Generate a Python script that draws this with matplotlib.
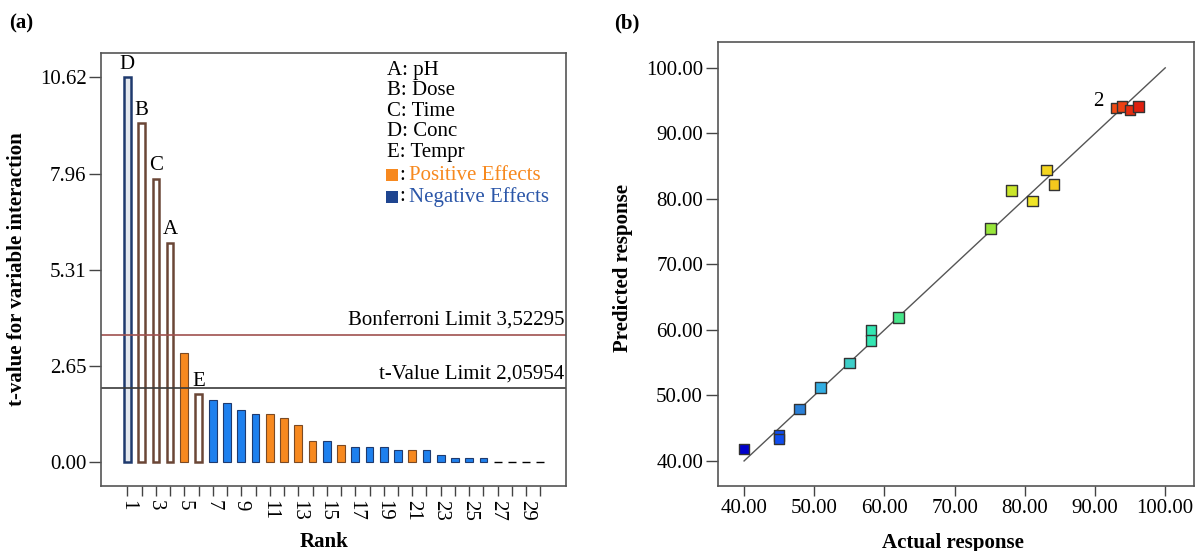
import numpy as np
import matplotlib.pyplot as plt
from matplotlib.colors import LinearSegmentedColormap, Normalize
from matplotlib.patches import Rectangle
import matplotlib.transforms as mtransforms

plt.rcParams['font.family'] = ['Liberation Serif', 'DejaVu Serif']

# ---- panel (a): Pareto chart data ----
ranks = np.arange(1, 31)
t_values = [10.62, 9.35, 7.83, 6.06, 3.01, 1.88, 1.71, 1.64, 1.43, 1.34,
            1.34, 1.23, 1.04, 0.58, 0.58, 0.49, 0.41, 0.41, 0.41, 0.33,
            0.33, 0.33, 0.21, 0.12, 0.12, 0.12, 0.02, 0.02, 0.02, 0.02]
effects = ['-', '+', '+', '+', '+', '+', '-', '-', '-', '-',
           '+', '+', '+', '+', '-', '+', '-', '-', '-', '-',
           '+', '-', '-', '-', '-', '-', '0', '0', '0', '0']
factor_labels = {1: 'D', 2: 'B', 3: 'C', 4: 'A', 6: 'E'}
legend_lines = ['A: pH', 'B: Dose', 'C: Time', 'D: Conc', 'E: Tempr']
bonferroni = 3.52295
t_limit = 2.05954
yticks_a = [0, 2.655, 5.31, 7.965, 10.62]
yticklabels_a = ['0.00', '2.65', '5.31', '7.96', '10.62']

# ---- panel (b): predicted vs actual ----
actual = [40.0, 45.0, 45.0, 47.9, 50.9, 55.0, 58.1, 58.1, 62.0, 75.1,
          78.1, 81.1, 83.1, 84.2, 93.0, 93.8, 95.0, 96.2]
predicted = [41.8, 43.9, 43.3, 47.9, 51.2, 55.0, 59.9, 58.4, 61.9, 75.5,
             81.3, 79.7, 84.4, 82.2, 93.9, 94.1, 93.6, 94.1]

ORANGE = '#F7891F'
BLUE = '#1E80EE'
NAVY = '#1F3A6E'
BROWN = '#6B4636'

fig = plt.figure(figsize=(12, 5.51), dpi=100)
ax1 = fig.add_axes([0.0842, 0.1185, 0.3875, 0.7858])
ax2 = fig.add_axes([0.598, 0.118, 0.397, 0.8064])

for ax in (ax1, ax2):
    for s in ax.spines.values():
        s.set_color('#555555')
        s.set_linewidth(1.2)

# bars
for r, t, e in zip(ranks, t_values, effects):
    if r in factor_labels:
        edge = NAVY if e == '-' else BROWN
        face = '#e4e8ee' if e == '-' else 'white'
        ax1.bar(r, t, width=0.45, color=face, edgecolor=edge, linewidth=1.8)
        ax1.text(r, t + 0.1, factor_labels[r], ha='center', va='bottom', fontsize=15)
    elif e == '0':
        ax1.bar(r, t, width=0.55, color='black', edgecolor='black', linewidth=1.0)
    else:
        face = ORANGE if e == '+' else BLUE
        edge = '#7a4a25' if e == '+' else NAVY
        ax1.bar(r, t, width=0.55, color=face, edgecolor=edge, linewidth=0.8)

ax1.axhline(bonferroni, color='#A0524F', lw=1.2)
ax1.axhline(t_limit, color='#3a3a3a', lw=1.2)
trans = mtransforms.blended_transform_factory(ax1.transAxes, ax1.transData)
ax1.text(0.996, bonferroni + 0.12, 'Bonferroni Limit 3,52295', transform=trans,
         ha='right', va='bottom', fontsize=15)
ax1.text(0.996, t_limit + 0.12, 't-Value Limit 2,05954', transform=trans,
         ha='right', va='bottom', fontsize=15)

# legend block
ys = [0.960, 0.912, 0.865, 0.8175, 0.769]
for yy, txt in zip(ys, legend_lines):
    ax1.text(0.615, yy, txt, transform=ax1.transAxes, ha='left', va='center', fontsize=15)
for yy, col, txtcol, txt in [(0.7175, ORANGE, ORANGE, 'Positive Effects'),
                             (0.667, '#1F4590', '#2B56A8', 'Negative Effects')]:
    ax1.add_patch(Rectangle((0.613, yy - 0.0139), 0.0258, 0.0278, transform=ax1.transAxes,
                            color=col, lw=0))
    ax1.text(0.641, yy, ':', transform=ax1.transAxes, ha='left', va='center', fontsize=15)
    ax1.text(0.662, yy, txt, transform=ax1.transAxes, ha='left', va='center',
             fontsize=15, color=txtcol)

ax1.set_xlim(-0.85, 31.8)
ax1.set_ylim(-0.645, 11.30)
ax1.set_xticks(ranks)
ax1.set_xticklabels([str(r) if r % 2 == 1 else '' for r in ranks], rotation=-90, fontsize=15)
ax1.set_yticks(yticks_a)
ax1.set_yticklabels(yticklabels_a, fontsize=15)
ax1.tick_params(axis='x', length=7.5, width=1.0, color='#444444', pad=3)
ax1.tick_params(axis='y', length=9, width=1.0, color='#444444', pad=1.5)
ax1.set_xlabel('Rank', fontsize=15, fontweight='bold')
ax1.set_ylabel('t-value for variable interaction', fontsize=15, fontweight='bold')
ax1.xaxis.set_label_coords(0.48, -0.107)
ax1.yaxis.set_label_coords(-0.16, 0.5)

# ---- panel (b) ----
cmap = LinearSegmentedColormap.from_list('de', [
    (0.0, '#0000CC'), (0.09, '#1050F0'), (0.14, '#2A7FD8'), (0.2, '#33B5E5'),
    (0.27, '#3ECFC8'), (0.32, '#33E6B3'), (0.39, '#45E68A'), (0.625, '#96E63C'),
    (0.68, '#C8E62A'), (0.73, '#F0E628'), (0.78, '#F5D21E'), (0.95, '#F04A14'),
    (1.0, '#E0200F')])
norm = Normalize(vmin=40, vmax=96)
ax2.plot([40, 100], [40, 100], color='#555555', lw=1.0, zorder=1)
ax2.scatter(actual, predicted, marker='s', s=55, c=[cmap(norm(a)) for a in actual],
            edgecolors='#333333', linewidths=1.0, zorder=3)
ax2.text(90.5, 94.9, '2', ha='center', va='center', fontsize=15)

ax2.set_xlim(36.23, 104.1)
ax2.set_ylim(36.18, 104.0)
ticks_b = np.arange(40, 101, 10)
ax2.set_xticks(ticks_b)
ax2.set_yticks(ticks_b)
ax2.set_xticklabels(['%.2f' % v for v in ticks_b], fontsize=15)
ax2.set_yticklabels(['%.2f' % v for v in ticks_b], fontsize=15)
ax2.tick_params(axis='x', length=7.5, width=1.0, color='#444444', pad=2)
ax2.tick_params(axis='y', length=9, width=1.0, color='#444444', pad=1.5)
ax2.set_xlabel('Actual response', fontsize=15, fontweight='bold')
ax2.set_ylabel('Predicted response', fontsize=15, fontweight='bold')
ax2.xaxis.set_label_coords(0.495, -0.106)
ax2.yaxis.set_label_coords(-0.177, 0.49)

fig.text(0.008, 0.957, '(a)', fontsize=15, fontweight='bold', va='center')
fig.text(0.512, 0.957, '(b)', fontsize=15, fontweight='bold', va='center')

fig.savefig('out.png', dpi=100)
